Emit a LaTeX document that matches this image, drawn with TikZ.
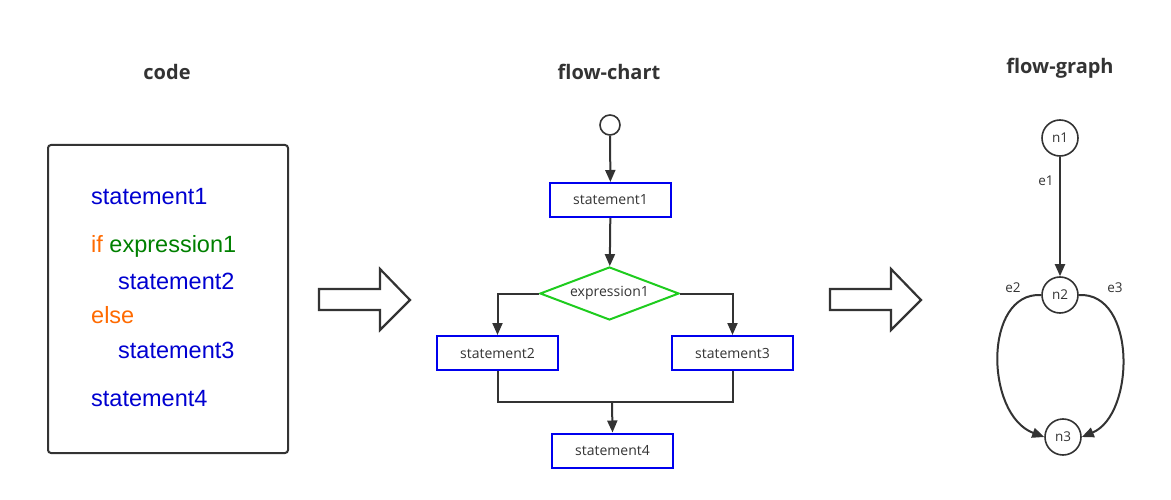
\documentclass[tikz,border=0pt]{standalone}
\usepackage{fontspec}
\setmainfont{Open Sans}
\newfontfamily\codefont{Liberation Sans}
\usetikzlibrary{shapes.geometric,arrows.meta}
\definecolor{ink}{HTML}{333333}
\definecolor{sblue}{HTML}{0000D0}
\definecolor{bblue}{HTML}{0000EE}
\definecolor{sgreen}{HTML}{008000}
\definecolor{sorange}{HTML}{FF6A00}
\definecolor{dgreen}{HTML}{1ECC1E}
\tikzset{
  title/.style={font=\fontsize{20}{23}\selectfont\bfseries, text=ink},
  codeline/.style={font=\codefont\fontsize{23.5}{27}\selectfont, anchor=west, inner sep=0pt},
  stmt/.style={draw=bblue, line width=2pt, minimum width=121pt, minimum height=34pt, inner sep=0pt, font=\fontsize{14}{16}\selectfont, text=ink},
  cond/.style={diamond, draw=dgreen, line width=2pt, minimum width=139pt, minimum height=53pt, inner sep=0pt, aspect=2.6, font=\fontsize{14}{16}\selectfont, text=ink},
  gnode/.style={circle, draw=ink, line width=1.6pt, minimum size=36pt, inner sep=0pt, font=\fontsize{13.5}{15}\selectfont, text=ink},
  elabel/.style={font=\fontsize{13.5}{15}\selectfont, text=ink},
  conn/.style={draw=ink, line width=2pt, -{Triangle[length=12pt,width=10pt]}},
  plain/.style={draw=ink, line width=2pt},
  hollow/.style={draw=ink, line width=2.2pt, fill=white, line join=miter},
}
\begin{document}
\begin{tikzpicture}[x=1pt,y=-1pt]
\useasboundingbox (0,0) rectangle (1171,500);
% titles
\node[title] (tcode) at (167,72) {code};
\node[title] (tchart) at (609,72) {flow-chart};
\node[title] (tgraph) at (1060,68) {flow-graph};
% code box
\node[draw=ink, line width=2pt, rounded corners=3pt, minimum width=240pt, minimum height=308pt, inner sep=0pt] (codebox) at (168,299) {};
\node[codeline, text=sblue] (c1) at (91,197) {statement1};
\node[codeline] (c2) at (91,246) {\textcolor{sorange}{if} \textcolor{sgreen}{expression1}};
\node[codeline, text=sblue] (c3) at (118,281) {statement2};
\node[codeline, text=sorange] (c4) at (91,315) {else};
\node[codeline, text=sblue] (c5) at (118,350) {statement3};
\node[codeline, text=sblue] (c6) at (91,399) {statement4};
% hollow arrows
\draw[hollow] (319,289) -- (380,289) -- (380,269) -- (410,300) -- (380,330) -- (380,310) -- (319,310) -- cycle;
\draw[hollow] (830,289) -- (891,289) -- (891,269) -- (921,300) -- (891,330) -- (891,310) -- (830,310) -- cycle;
% flow chart
\node[circle, draw=ink, line width=1.6pt, minimum size=20pt, inner sep=0pt] (start) at (610,125) {};
\node[stmt] (s1) at (610.5,200) {statement1};
\node[cond] (e1) at (609.5,293.5) {expression1};
\node[stmt] (s2) at (497.5,353) {statement2};
\node[stmt] (s3) at (732.5,353) {statement3};
\node[stmt] (s4) at (612.5,450.5) {statement4};
\coordinate (m) at (612,402);
\draw[conn] (start) -- (s1);
\draw[conn] (s1) -- (e1);
\draw[conn] (e1.west) -| (s2.north);
\draw[conn] (e1.east) -| (s3.north);
\draw[plain] (s2.south) |- (m) -| (s3.south);
\draw[conn] (m) -- (s4.north);
% flow graph
\node[gnode] (n1) at (1060,138) {n1};
\node[gnode] (n2) at (1060,295) {n2};
\node[gnode] (n3) at (1063,437) {n3};
\draw[conn] (n1) -- node[elabel, pos=0.2, left=2pt] (l1) {e1} (n2);
\draw[conn] (n2.west) .. controls (983,292) and (985,415) .. (n3.west);
\draw[conn] (n2.east) .. controls (1137,292) and (1135,415) .. (n3.east);
\node[elabel] (l2) at (1013,288) {e2};
\node[elabel] (l3) at (1115,288) {e3};
\end{tikzpicture}
\end{document}
